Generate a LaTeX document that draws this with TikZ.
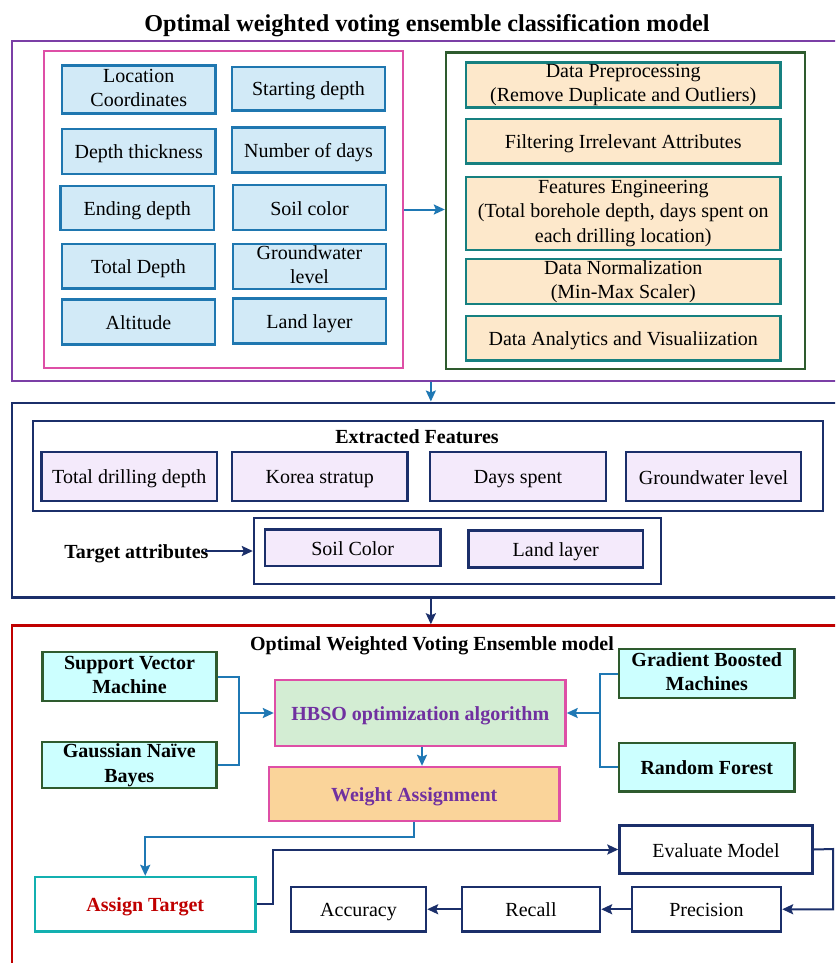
\documentclass[tikz,border=0pt]{standalone}
\usepackage{fontspec}
\setmainfont{Liberation Serif}
\usetikzlibrary{arrows.meta,calc}
\definecolor{cpurple}{HTML}{7B3FA6}
\definecolor{cpink}{HTML}{DE4FA6}
\definecolor{bluedraw}{HTML}{1F77B0}
\definecolor{bluefill}{HTML}{D2EAF7}
\definecolor{dgreen}{HTML}{2E5B2E}
\definecolor{tealdraw}{HTML}{168080}
\definecolor{orfill}{HTML}{FDE8CB}
\definecolor{navy}{HTML}{1B2F6A}
\definecolor{lav}{HTML}{F4EAFB}
\definecolor{cyanfill}{HTML}{CCFFFF}
\definecolor{hbsofill}{HTML}{D3EDD3}
\definecolor{wafill}{HTML}{FAD49A}
\definecolor{atdraw}{HTML}{13B0B0}
\definecolor{cred}{HTML}{C00000}
\definecolor{txtpurple}{HTML}{7030A0}
\definecolor{arrblue}{HTML}{1F78B4}
\newcommand{\mystrut}{\rule[-3.5pt]{0pt}{22pt}}
\newcommand{\bnode}[7]{%
 \pgfmathsetmacro{\mybw}{#5-#3}\pgfmathsetmacro{\mybh}{#6-#4}%
 \pgfmathsetmacro{\mybx}{(#3+#5)/2}\pgfmathsetmacro{\myby}{(#4+#6)/2}%
 \node[#1, minimum width=\mybw pt, minimum height=\mybh pt] (#2) at (\mybx,\myby) {#7};}
\tikzset{
  txt/.style={font=\fontsize{20}{24.5}\selectfont, align=center, inner sep=0pt,
    execute at begin node=\mystrut, execute at end node=\mystrut},
  btxt/.style={font=\bfseries\fontsize{20}{24.5}\selectfont, align=center, inner sep=0pt,
    execute at begin node=\mystrut, execute at end node=\mystrut},
  outer/.style={draw, line width=2.4pt, inner sep=0pt},
  bluebox/.style={txt, draw=bluedraw, fill=bluefill, line width=2.6pt},
  orbox/.style={txt, draw=tealdraw, fill=orfill, line width=2.6pt},
  lavbox/.style={txt, draw=navy, fill=lav, line width=2.4pt},
  mlbox/.style={btxt, draw=dgreen, fill=cyanfill, line width=2.4pt},
  evbox/.style={txt, draw=navy, fill=white, line width=2.4pt},
  connb/.style={draw=arrblue, line width=2pt, -{Stealth[length=11pt,width=10pt,inset=2pt]}},
  connn/.style={draw=navy, line width=2pt, -{Stealth[length=11pt,width=10pt,inset=2pt]}},
  linkb/.style={draw=arrblue, line width=2pt},
}
\begin{document}
\begin{tikzpicture}[x=1pt,y=-1pt]
\useasboundingbox (0,0) rectangle (835,963);
\clip (0,0) rectangle (835,963);
\fill[white] (0,0) rectangle (835,963);

% ---------- title ----------
\node[font=\bfseries\fontsize{24.2}{28}\selectfont, inner sep=0pt] (title) at (427,26) {Optimal weighted voting ensemble classification model};

% ---------- group 1 ----------
\bnode{outer, draw=cpurple}{gone}{11.7}{41}{850}{381}{}
\bnode{outer, draw=cpink}{pinkbox}{44}{51}{403}{368}{}
\bnode{bluebox}{loc}{62}{65.5}{215.5}{113.5}{Location\\Coordinates}
\bnode{bluebox}{start}{232}{67}{385}{110.5}{Starting depth}
\bnode{bluebox}{dthick}{62}{129}{215.5}{174}{Depth thickness}
\bnode{bluebox}{ndays}{232}{127.5}{385}{172.5}{Number of days}
\bnode{bluebox}{endd}{60.5}{186}{214}{230}{Ending depth}
\bnode{bluebox}{soil}{233}{185}{386}{230}{Soil color}
\bnode{bluebox}{totd}{62}{244}{215}{288.5}{Total Depth}
\bnode{bluebox}{gwl}{233}{244}{386}{289}{Groundwater\\level}
\bnode{bluebox}{alt}{62}{299.5}{215}{344.5}{Altitude}
\bnode{bluebox}{land}{233}{298.5}{386}{343.5}{Land layer}

\bnode{outer, draw=dgreen}{greenbox}{446}{52.5}{805}{369}{}
\bnode{orbox}{dprep}{466}{62.5}{780.5}{107.5}{Data Preprocessing\\(Remove Duplicate and Outliers)}
\bnode{orbox}{filt}{466}{119}{780.5}{163.5}{Filtering Irrelevant Attributes}
\bnode{orbox}{feng}{466}{177}{780.5}{250}{Features Engineering\\(Total borehole depth, days spent on\\each drilling location)}
\bnode{orbox}{dnorm}{466}{259}{780.5}{304}{Data Normalization\\(Min-Max Scaler)}
\bnode{orbox}{dana}{466}{316}{780.5}{360.5}{Data Analytics and Visualiization}

\draw[connb] (pinkbox.east) -- (pinkbox.east -| greenbox.west);

% ---------- group 2 ----------
\bnode{outer, draw=navy}{gtwo}{11.7}{402.7}{850}{597.3}{}
\draw[connb] (gone.south) -- (gtwo.north);
\bnode{outer, draw=navy}{efbox}{33}{420.7}{823}{511}{}
\node[btxt] (eftitle) at (417,436) {Extracted Features};
\bnode{lavbox}{tdd}{41.5}{452}{217}{501}{Total drilling depth}
\bnode{lavbox}{korea}{232}{452}{407.5}{501}{Korea stratup}
\bnode{lavbox}{dspent}{430}{452}{606}{501}{Days spent}
\bnode{lavbox}{gwl2}{626}{452}{801}{501}{Groundwater level}
\bnode{outer, draw=navy}{tbox}{254}{518}{661}{584}{}
\bnode{lavbox}{soilc}{265}{529.5}{440.5}{566}{Soil Color}
\bnode{lavbox}{landl}{468.5}{530.5}{643}{567.5}{Land layer}
\node[btxt, anchor=east] (tattr) at (208.7,551) {Target attributes};
\draw[connn] ([xshift=-4pt]tattr.east) -- (tattr.east -| tbox.west);

% ---------- group 3 ----------
\bnode{outer, draw=cred}{gthree}{11.7}{625.5}{850}{990}{}
\draw[connn] (gtwo.south) -- (gthree.north);
\node[btxt] (mtitle) at (432,643) {Optimal Weighted Voting Ensemble model};

\bnode{mlbox}{svm}{42.5}{652}{216.5}{701}{Support Vector\\Machine}
\bnode{mlbox}{gnb}{42}{742}{216.5}{788}{Gaussian Naïve\\Bayes}
\bnode{mlbox}{gbm}{619}{649}{794.5}{698}{Gradient Boosted\\Machines}
\bnode{mlbox}{rf}{619}{743}{794.5}{791.5}{Random Forest}
\bnode{btxt, draw=cpink, fill=hbsofill, line width=2.4pt, text=txtpurple}{hbso}{275}{680}{565.5}{746}{HBSO optimization algorithm}
\bnode{btxt, draw=cpink, fill=wafill, line width=2.4pt, text=txtpurple}{wa}{269}{767}{559.5}{821}{Weight Assignment}
\bnode{btxt, draw=atdraw, fill=white, line width=2.4pt, text=cred}{atgt}{35}{877}{255.5}{931.5}{Assign Target}
\bnode{evbox}{evm}{619.5}{825.5}{812.5}{873.5}{Evaluate Model}
\bnode{evbox}{prec}{632}{887}{781}{931.5}{Precision}
\bnode{evbox}{rec}{462}{887}{600}{931.5}{Recall}
\bnode{evbox}{acc}{291}{887}{426}{931.5}{Accuracy}

\coordinate (jl) at (239,713);
\coordinate (jr) at (600,713);
\draw[linkb] (svm.east) -| (jl);
\draw[linkb] (gnb.east) -| (jl);
\draw[connb] (jl) -- (jl -| hbso.west);
\draw[linkb] (gbm.west) -| (jr);
\draw[linkb] (rf.west) -| (jr);
\draw[connb] (jr) -- (jr -| hbso.east);
\draw[connb] (hbso.south -| 422,0) -- (wa.north -| 422,0);
\coordinate (wabend) at (414.3,837);
\draw[connb] (wa.south -| wabend) -- (wabend) -| (atgt.north);
\coordinate (atbend) at (273,904);
\draw[connn] (atgt.east |- atbend) -- (atbend) |- (evm.west);
\coordinate (evbend) at (833,849);
\draw[connn] (evm.east) -- (evbend) |- (prec.east);
\draw[connn] (prec.west) -- (rec.east);
\draw[connn] (rec.west) -- (acc.east);
\end{tikzpicture}
\end{document}
